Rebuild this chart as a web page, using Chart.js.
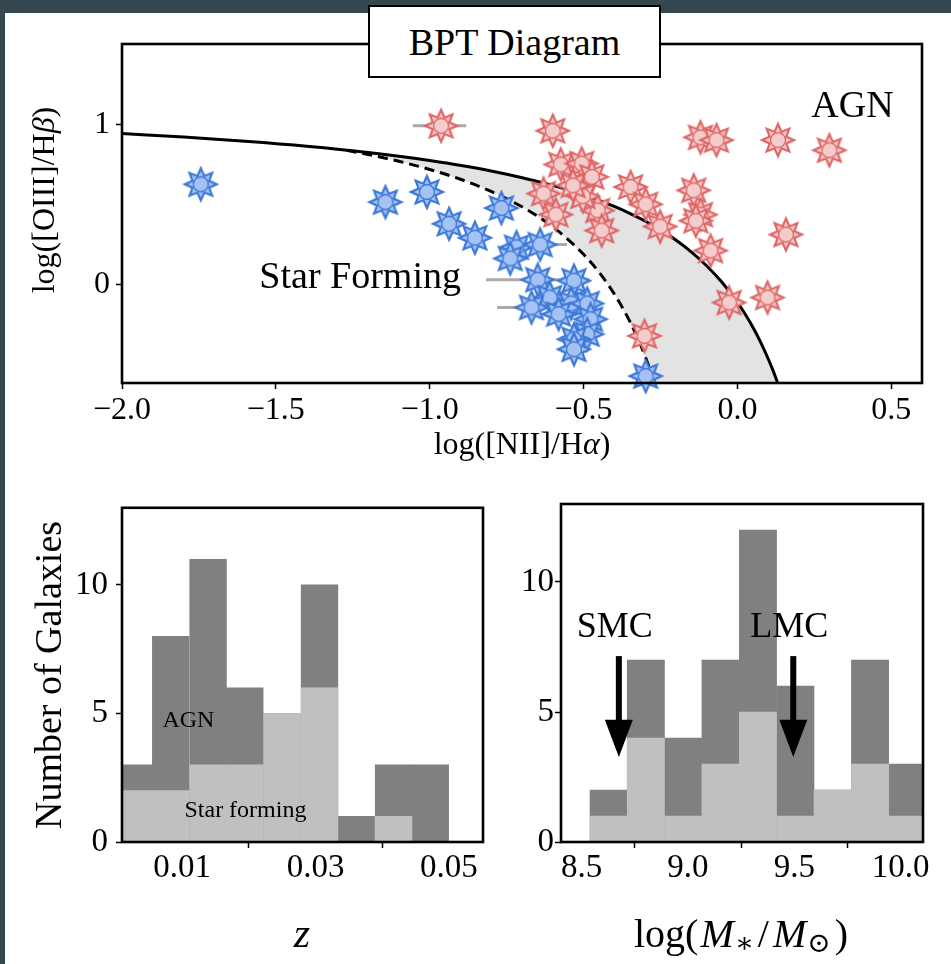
<!DOCTYPE html>
<html>
<head>
<meta charset="utf-8">
<script src="https://cdn.jsdelivr.net/npm/chart.js@4.4.1/dist/chart.umd.min.js"></script>
<style>
    html, body { margin: 0; padding: 0; }
    body { width: 951px; height: 964px; background: #37474f; position: relative; overflow: hidden; }
    #pagina { position: absolute; left: 5px; top: 13px; width: 946px; height: 951px; background: #fff; }
    canvas { position: absolute; }
    #bpt { left: 0; top: 0; }
    #histZ { left: 0; top: 480px; }
    #histM { left: 520px; top: 480px; }
    #titulo {
        position: absolute; left: 368px; top: 5px; width: 289px; height: 69px;
        border: 2px solid #000; background: #fff; box-sizing: content-box;
        font: 38px 'Liberation Serif', serif; text-align: center; line-height: 70px; color: #000;
    }
</style>
</head>
<body>
<div id="pagina"></div>
<canvas id="bpt" width="951" height="480"></canvas>
<canvas id="histZ" width="520" height="484"></canvas>
<canvas id="histM" width="431" height="484"></canvas>
<div id="titulo">BPT Diagram</div>
<script>
// Galáxias com formação estelar (azul)
const sfX = [-1.744, -1.144, -1.009, -0.937, -0.853, -0.767, -0.718, -0.738, -0.641, -0.649, -0.531, -0.610, -0.669, -0.540, -0.581, -0.488, -0.477, -0.488, -0.531, -0.531, -0.298];
const sfY = [0.627, 0.516, 0.579, 0.381, 0.294, 0.479, 0.235, 0.165, 0.252, 0.033, 0.027, -0.078, -0.140, -0.115, -0.181, -0.115, -0.213, -0.306, -0.338, -0.400, -0.567];

// Galáxias AGN (vermelho)
const agnX = [-0.963, -0.600, -0.120, -0.068, 0.132, 0.299, -0.574, -0.506, -0.473, -0.630, -0.590, -0.454, -0.441, -0.347, -0.298, -0.251, -0.142, -0.120, -0.087, 0.158, -0.027, 0.098, -0.302, -0.502, -0.534, -0.135];
const agnY = [0.991, 0.960, 0.919, 0.902, 0.902, 0.839, 0.750, 0.756, 0.673, 0.569, 0.438, 0.464, 0.339, 0.610, 0.502, 0.364, 0.589, 0.438, 0.214, 0.314, -0.109, -0.078, -0.317, 0.552, 0.620, 0.400];

// barras de erro horizontais (cinza)
const errXmin = [-1.055, -0.817, -0.781, -0.728];
const errXmax = [-0.881, -0.481, -0.557, -0.554];
const errY = [0.991, 0.033, -0.140, 0.252];

// curva de Kewley (linha cheia)
const kewleyX = [-2.0, -1.8, -1.6, -1.4, -1.2, -1.0, -0.8, -0.6, -0.5, -0.4, -0.35, -0.3, -0.25, -0.2, -0.15, -0.1, -0.05, 0.0, 0.025, 0.05, 0.075, 0.1, 0.115, 0.13];
const kewleyY = [0.943, 0.921, 0.895, 0.864, 0.825, 0.775, 0.710, 0.620, 0.561, 0.489, 0.446, 0.398, 0.343, 0.280, 0.206, 0.120, 0.017, -0.108, -0.181, -0.262, -0.354, -0.459, -0.528, -0.604];

// curva de Kauffmann (tracejada)
const kauffX = [-1.27, -1.2, -1.1, -1.0, -0.9, -0.8, -0.7, -0.65, -0.6, -0.55, -0.5, -0.45, -0.4, -0.35, -0.325, -0.3, -0.285, -0.27];
const kauffY = [0.838, 0.812, 0.770, 0.719, 0.658, 0.582, 0.487, 0.429, 0.362, 0.283, 0.191, 0.080, -0.056, -0.225, -0.327, -0.443, -0.521, -0.606];

const bptTicksX = [-2.0, -1.5, -1.0, -0.5, 0.0, 0.5];
const bptTicksY = [0, 1];

// Histograma de redshift
const zCentros = [0.0028, 0.0083, 0.0139, 0.0194, 0.0250, 0.0306, 0.0361, 0.0417, 0.0472];
const zTodas = [3, 8, 11, 6, 5, 10, 1, 3, 3];
const zSF = [2, 2, 3, 3, 5, 6, 0, 1, 0];
const zTicks = [0.01, 0.03, 0.05];

// Histograma de massa estelar
const massaCentros = [8.627, 8.802, 8.978, 9.153, 9.329, 9.505, 9.680, 9.856, 10.031];
const massaTodas = [2, 7, 4, 7, 12, 6, 2, 7, 3];
const massaSF = [1, 4, 1, 3, 5, 1, 2, 3, 1];
const massaTicks = [8.5, 9.0, 9.5, 10.0];
const contagemTicks = [0, 5, 10];

// massas das Nuvens de Magalhães
const nuvens = ['SMC', 'LMC'];
const nuvensMassa = [8.675, 9.495];

Chart.defaults.font.family = "'Liberation Serif', serif";
Chart.defaults.color = '#000';

const SERIF = "'Liberation Serif', 'DejaVu Serif', serif";

function estrela(borda, preenchimento) {
    var c = document.createElement('canvas');
    c.width = 44; c.height = 44;
    var g = c.getContext('2d');
    g.translate(22, 22);
    g.beginPath();
    for (var i = 0; i < 16; i++) {
        var r = (i % 2 === 0) ? 16 : 9;
        var a = -Math.PI / 2 + i * Math.PI / 8;
        if (i === 0) g.moveTo(r * Math.cos(a), r * Math.sin(a));
        else g.lineTo(r * Math.cos(a), r * Math.sin(a));
    }
    g.closePath();
    g.fillStyle = preenchimento;
    g.fill();
    g.lineWidth = 2.2;
    g.strokeStyle = borda;
    g.stroke();
    g.beginPath();
    g.arc(0, 0, 7.5, 0, 2 * Math.PI);
    g.fillStyle = preenchimento;
    g.fill();
    g.lineWidth = 1.3;
    g.stroke();
    return c;
}

// desenha texto com partes em fontes diferentes (itálico, subscrito)
function textoRico(ctx, partes, cx, cy, angulo) {
    ctx.save();
    ctx.translate(cx, cy);
    if (angulo) ctx.rotate(angulo);
    ctx.textBaseline = 'middle';
    ctx.textAlign = 'left';
    ctx.fillStyle = '#000';
    var total = 0;
    partes.forEach(function (p) { ctx.font = p[1]; total += ctx.measureText(p[0]).width + (p[3] || 0); });
    var x = -total / 2;
    partes.forEach(function (p) {
        ctx.font = p[1];
        ctx.fillText(p[0], x, p[2] || 0);
        x += ctx.measureText(p[0]).width + (p[3] || 0);
    });
    ctx.restore();
}

function fixarTicks(lista) {
    return function (scale) { scale.ticks = lista.map(v => ({ value: v })); };
}

const moldura = {
    id: 'moldura',
    afterDraw(chart) {
        const a = chart.chartArea;
        const ctx = chart.ctx;
        ctx.save();
        ctx.strokeStyle = '#000';
        ctx.lineWidth = 2.6;
        ctx.strokeRect(a.left, a.top, a.right - a.left, a.bottom - a.top);
        ctx.restore();
    }
};

function eixo(min, max, ticks, formato, tamanho, padding, extra) {
    return Object.assign({
        type: 'linear', min: min, max: max, offset: false,
        afterBuildTicks: fixarTicks(ticks),
        grid: { display: true, drawOnChartArea: false, drawTicks: true, tickLength: 6, tickWidth: 1.5, tickColor: '#000' },
        border: { display: false },
        ticks: { font: { size: tamanho }, padding: padding, color: '#000', callback: formato, maxRotation: 0, autoSkip: false }
    }, extra || {});
}

// ---------- BPT ----------
var azul = estrela('#3c78d8', '#a4c2f4');
var vermelho = estrela('#e06666', '#f4cccc');

var errData = [];
errY.forEach(function (y, i) {
    errData.push({ x: errXmin[i], y: y }, { x: errXmax[i], y: y }, { x: errXmax[i], y: null });
});

var fillX = [kauffX[0]].concat(kewleyX.filter(x => x > kauffX[0]), kauffX.slice().reverse());
var fillY = [kauffY[0]].concat(kewleyY.filter((y, i) => kewleyX[i] > kauffX[0]), kauffY.slice().reverse());

new Chart(document.getElementById('bpt'), {
    type: 'scatter',
    data: {
        datasets: [
            { data: agnX.map((x, i) => ({ x: x, y: agnY[i] })), pointStyle: vermelho, clip: false, order: 0 },
            { data: sfX.map((x, i) => ({ x: x, y: sfY[i] })), pointStyle: azul, clip: false, order: 1 },
            { data: kewleyX.map((x, i) => ({ x: x, y: kewleyY[i] })), showLine: true, pointRadius: 0, borderColor: '#000', borderWidth: 3, cubicInterpolationMode: 'monotone', order: 2 },
            { data: kauffX.map((x, i) => ({ x: x, y: kauffY[i] })), showLine: true, pointRadius: 0, borderColor: '#000', borderWidth: 3, borderDash: [10, 6], cubicInterpolationMode: 'monotone', order: 2 },
            { data: errData, showLine: true, spanGaps: false, pointRadius: 0, borderColor: '#aaaaaa', borderWidth: 3, order: 3 },
            { data: fillX.map((x, i) => ({ x: x, y: fillY[i] })), showLine: true, pointRadius: 0, borderWidth: 0, backgroundColor: '#e3e3e3', fill: 'shape', order: 4 }
        ]
    },
    options: {
        responsive: false, animation: false, events: [],
        layout: { padding: { top: 44, right: 29, left: 0, bottom: 0 } },
        plugins: { legend: { display: false }, tooltip: { enabled: false } },
        scales: {
            x: eixo(-2.0, 0.6, bptTicksX, v => v.toFixed(1).replace('-', '\u2212'), 32, 2,
                { afterFit: s => { s.height = 97; } }),
            y: eixo(-0.61, 1.5, bptTicksY, v => String(v), 32, 6,
                { afterFit: s => { s.width = 122; } })
        }
    },
    plugins: [moldura, {
        id: 'textosBpt',
        afterDraw(chart) {
            const ctx = chart.ctx, sx = chart.scales.x, sy = chart.scales.y;
            ctx.save();
            ctx.fillStyle = '#000';
            ctx.font = '38px ' + SERIF;
            ctx.textAlign = 'center';
            ctx.textBaseline = 'alphabetic';
            ctx.fillText('Star Forming', sx.getPixelForValue(-1.226), sy.getPixelForValue(-0.017));
            ctx.fillText('AGN', sx.getPixelForValue(0.374), sy.getPixelForValue(1.046));
            ctx.restore();
            textoRico(ctx, [['log([NII]/H', '32px ' + SERIF], ['\u03b1', 'italic 32px ' + SERIF], [')', '32px ' + SERIF]], 522, 446, 0);
            textoRico(ctx, [['log([OIII]/H', '32px ' + SERIF], ['\u03b2', 'italic 32px ' + SERIF], [')', '32px ' + SERIF]], 46, 200, -Math.PI / 2);
        }
    }]
});

// ---------- histogramas ----------
function barras(centros, sf, todas) {
    return [
        { data: centros.map((x, i) => ({ x: x, y: sf[i] })), backgroundColor: '#c0c0c0', grouped: false, categoryPercentage: 1, barPercentage: 1, borderWidth: 0, clip: 0 },
        { data: centros.map((x, i) => ({ x: x, y: todas[i] })), backgroundColor: '#808080', grouped: false, categoryPercentage: 1, barPercentage: 1, borderWidth: 0, clip: 0 }
    ];
}

new Chart(document.getElementById('histZ'), {
    type: 'bar',
    data: { datasets: barras(zCentros, zSF, zTodas) },
    options: {
        responsive: false, animation: false, events: [],
        layout: { padding: { top: 24, right: 37, left: 0, bottom: 0 } },
        plugins: { legend: { display: false }, tooltip: { enabled: false } },
        scales: {
            x: eixo(0.001, 0.0551, zTicks, v => v.toFixed(2), 33, 1, { afterFit: s => { s.height = 122; } }),
            y: eixo(0, 13, contagemTicks, v => String(v), 33, 8, { afterFit: s => { s.width = 122; } })
        }
    },
    plugins: [moldura, {
        id: 'textosZ',
        afterDraw(chart) {
            const ctx = chart.ctx, sx = chart.scales.x, sy = chart.scales.y;
            ctx.save();
            ctx.fillStyle = '#000';
            ctx.font = '24px ' + SERIF;
            ctx.textAlign = 'center';
            ctx.textBaseline = 'middle';
            ctx.fillText('AGN', sx.getPixelForValue(0.01095), sy.getPixelForValue(4.72));
            ctx.fillText('Star forming', sx.getPixelForValue(0.0195), sy.getPixelForValue(1.22));
            ctx.restore();
            textoRico(ctx, [['Number of Galaxies', '38px ' + SERIF]], 51, 195, -Math.PI / 2);
            textoRico(ctx, [['z', 'italic 42px ' + SERIF]], 302, 456, 0);
        }
    }]
});

new Chart(document.getElementById('histM'), {
    type: 'bar',
    data: { datasets: barras(massaCentros, massaSF, massaTodas) },
    options: {
        responsive: false, animation: false, events: [],
        layout: { padding: { top: 24, right: 28, left: 0, bottom: 0 } },
        plugins: { legend: { display: false }, tooltip: { enabled: false } },
        scales: {
            x: eixo(8.403, 10.105, massaTicks, v => v.toFixed(1), 33, 1, { afterFit: s => { s.height = 122; } }),
            y: eixo(0, 13, contagemTicks, v => String(v), 33, 1, { afterFit: s => { s.width = 41; } })
        }
    },
    plugins: [moldura, {
        id: 'textosMassa',
        afterDraw(chart) {
            const ctx = chart.ctx, sx = chart.scales.x, sy = chart.scales.y;
            ctx.save();
            ctx.fillStyle = '#000';
            ctx.font = '36px ' + SERIF;
            ctx.textAlign = 'center';
            ctx.textBaseline = 'alphabetic';
            nuvens.forEach(function (nome, i) {
                var px = sx.getPixelForValue(nuvensMassa[i]);
                var topo = sy.getPixelForValue(7.15);
                var base = sy.getPixelForValue(4.7);
                var ponta = sy.getPixelForValue(3.27);
                ctx.fillText(nome, px - 4, sy.getPixelForValue(7.88));
                ctx.fillRect(px - 3, topo, 6, base - topo + 1);
                ctx.beginPath();
                ctx.moveTo(px - 14, base);
                ctx.lineTo(px + 14, base);
                ctx.lineTo(px, ponta);
                ctx.closePath();
                ctx.fill();
            });
            ctx.restore();
            var f = '40px ' + SERIF, fi = 'italic 40px ' + SERIF, fs = '28px ' + SERIF;
            textoRico(ctx, [['log(', f, 0, 2], ['M', fi, 0, 1], ['\u2217', fs, 9, 4], ['/', f, 0, 4], ['M', fi, 0, 1], ['\u2299', fs, 9, 4], [')', f]], 221, 456, 0);
        }
    }]
});
</script>
</body>
</html>
